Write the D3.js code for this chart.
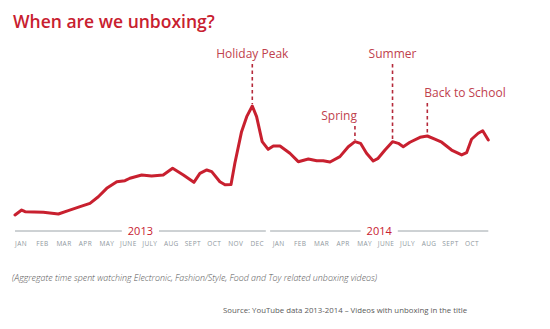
<!DOCTYPE html>
<html>
<head>
<meta charset="utf-8">
<script src="https://cdn.jsdelivr.net/npm/d3@7"></script>
<style>
  html, body { margin: 0; padding: 0; background: #ffffff; }
  svg { display: block; }
</style>
</head>
<body>
<svg id="chart" width="550" height="329"></svg>
<script>
// Time axis: position in months, 0 = January 2013
const monthPos = [
  -0.28, 0.03, 0.19, 1.04, 1.74, 2.20, 2.75, 3.21, 3.60, 3.99,
  4.46, 4.84, 5.07, 5.62, 6.08, 6.62, 7.06, 7.56, 8.05, 8.33,
  8.65, 8.88, 9.26, 9.50, 9.78, 9.96, 10.27, 10.51, 10.77, 10.97,
  11.23, 11.51, 11.75, 12.06, 12.52, 12.91, 13.38, 13.77, 14.07, 14.39,
  14.85, 15.24, 15.55, 15.81, 16.09, 16.40, 16.63, 16.95, 17.30, 17.57,
  17.80, 18.11, 18.58, 18.92, 19.27, 19.59, 20.05, 20.52, 20.75, 20.98,
  21.29, 21.50, 21.76
];

// Relative time spent watching unboxing videos (index)
const watchIndex = [
  4.2, 8.3, 6.9, 6.4, 5.0, 7.8, 11.1, 13.9, 19.4, 26.4,
  31.9, 32.8, 34.8, 37.5, 36.7, 37.5, 43.1, 37.5, 31.4, 38.9,
  41.7, 40.3, 31.9, 29.3, 29.6, 47.5, 73.6, 86.1, 95.0, 86.1,
  65.3, 58.9, 61.7, 61.7, 55.6, 48.6, 50.8, 49.4, 49.4, 48.3,
  52.8, 61.1, 65.3, 63.9, 55.6, 49.2, 51.4, 58.3, 65.3, 63.9,
  61.1, 64.8, 68.9, 70.0, 67.3, 64.8, 58.3, 54.2, 56.1, 67.3,
  72.3, 74.4, 66.7
];

// Month tick labels, grouped by year
const years = ["2013", "2014"];
const months2013 = ["JAN", "FEB", "MAR", "APR", "MAY", "JUNE", "JULY", "AUG", "SEPT", "OCT", "NOV", "DEC"];
const months2014 = ["JAN", "FEB", "MAR", "APR", "MAY", "JUNE", "JULY", "AUG", "SEPT", "OCT"];

// Annotated moments: label text and the index of the point they mark
const annotationLabels = ["Holiday Peak", "Spring", "Summer", "Back to School"];
const annotationPoint = [28, 42, 48, 53];

const titleText = "When are we unboxing?";
const noteText = "(Aggregate time spent watching Electronic, Fashion/Style, Food and Toy related unboxing videos)";
const sourceText = "Source: YouTube data 2013-2014 \u2013 Videos with unboxing in the title";

// ---------------------------------------------------------------
const RED = "#c8202f";
const LABEL_RED = "#c0414d";
const GREY = "#9ca4a9";
const FONT = "'Open Sans', 'Noto Sans', sans-serif";

const svg = d3.select("#chart");

const x = d3.scaleLinear().domain([-0.28, 21.76]).range([15, 488.3]);
const y = d3.scaleLinear().domain([0, 100]).range([220, 100]);

const points = monthPos.map((m, i) => ({ m, v: watchIndex[i] }));

// Title
svg.append("text")
  .attr("x", 13).attr("y", 28)
  .attr("fill", RED)
  .attr("font-family", FONT)
  .attr("font-size", 17.5)
  .attr("font-weight", 600)
  .text(titleText);

// Annotation leaders and labels (drawn under the line)
const annoLayout = {
  "Holiday Peak":   { anchor: "middle", dx: 0,  labelY: 58 },
  "Spring":         { anchor: "end",    dx: 2,  labelY: 120 },
  "Summer":         { anchor: "middle", dx: 0,  labelY: 58 },
  "Back to School": { anchor: "start",  dx: -3, labelY: 97 }
};

annotationLabels.forEach((label, i) => {
  const p = points[annotationPoint[i]];
  const lay = annoLayout[label];
  const px = x(p.m), py = y(p.v);
  svg.append("line")
    .attr("x1", px).attr("x2", px)
    .attr("y1", lay.labelY + 6).attr("y2", py - 2)
    .attr("stroke", "#b5293a")
    .attr("stroke-width", 1.6)
    .attr("stroke-dasharray", "3.5,3");
  svg.append("text")
    .attr("x", px + lay.dx).attr("y", lay.labelY)
    .attr("text-anchor", lay.anchor)
    .attr("fill", LABEL_RED)
    .attr("font-family", FONT)
    .attr("font-size", 12)
    .text(label);
});

// Main line
svg.append("path")
  .datum(points)
  .attr("fill", "none")
  .attr("stroke", RED)
  .attr("stroke-width", 3)
  .attr("stroke-linejoin", "round")
  .attr("stroke-linecap", "round")
  .attr("d", d3.line().x(d => x(d.m)).y(d => y(d.v)).curve(d3.curveLinear));

// Month labels and year brackets
const axisY = 231;
const monthsByYear = [months2013, months2014];
let offset = 0;
years.forEach((yr, yi) => {
  const ms = monthsByYear[yi];
  const first = offset, last = offset + ms.length - 1;
  const start = yi === 0 ? x.domain()[0] : first - 0.4;
  const end = yi === years.length - 1 ? x.domain()[1] : last + 0.4;
  const x0 = x(start), x1 = x(end), cx = (x0 + x1) / 2;

  const yrText = svg.append("text")
    .attr("x", cx).attr("y", axisY + 4)
    .attr("text-anchor", "middle")
    .attr("fill", RED)
    .attr("font-family", FONT)
    .attr("font-size", 11)
    .text(yr);
  const half = yrText.node().getComputedTextLength() / 2 + 6;

  svg.append("line")
    .attr("x1", x0).attr("x2", cx - half)
    .attr("y1", axisY).attr("y2", axisY)
    .attr("stroke", GREY).attr("stroke-width", 1);
  svg.append("line")
    .attr("x1", cx + half).attr("x2", x1)
    .attr("y1", axisY).attr("y2", axisY)
    .attr("stroke", GREY).attr("stroke-width", 1);

  ms.forEach((name, k) => {
    svg.append("text")
      .attr("x", x(offset + k)).attr("y", axisY + 15)
      .attr("text-anchor", "middle")
      .attr("fill", "#8f989e")
      .attr("font-family", FONT)
      .attr("font-size", 6.5)
      .attr("letter-spacing", 0.4)
      .text(name);
  });
  offset += ms.length;
});

// Footnote and source
svg.append("text")
  .attr("x", 12).attr("y", 281)
  .attr("fill", "#555555")
  .attr("font-family", FONT)
  .attr("font-size", 8.85)
  .attr("font-style", "italic")
  .attr("font-weight", 300)
  .text(noteText);

svg.append("text")
  .attr("x", 223).attr("y", 313)
  .attr("fill", "#5a5a5a")
  .attr("font-family", FONT)
  .attr("font-size", 7.8)
  .text(sourceText);
</script>
</body>
</html>
